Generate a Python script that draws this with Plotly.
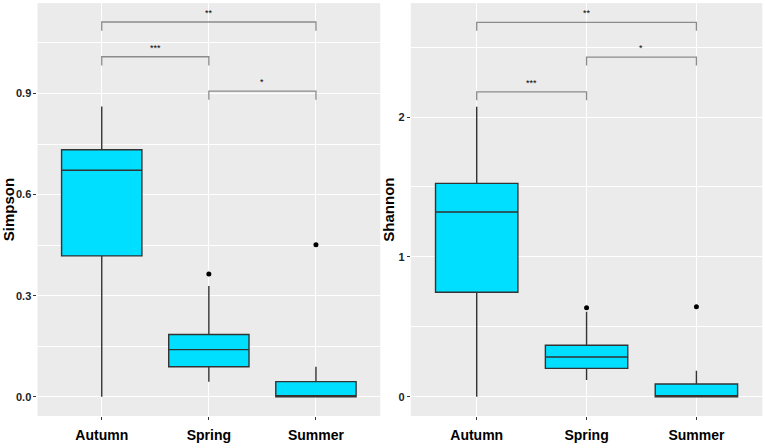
"""Alpha diversity (Simpson / Shannon) by season, boxplots with significance brackets"""

import plotly.graph_objects as go
from plotly.subplots import make_subplots

# %% Data
seasons = ["Autumn", "Spring", "Summer"]

# Simpson index
simpson_q1 = [0.418, 0.089, 0.0]
simpson_median = [0.672, 0.140, 0.0]
simpson_q3 = [0.733, 0.185, 0.045]
simpson_low = [0.0, 0.045, 0.0]
simpson_high = [0.861, 0.329, 0.089]
simpson_out_x = ["Spring", "Summer"]
simpson_out_y = [0.364, 0.451]

# Shannon index
shannon_q1 = [0.747, 0.203, 0.0]
shannon_median = [1.321, 0.284, 0.0]
shannon_q3 = [1.526, 0.368, 0.091]
shannon_low = [0.0, 0.119, 0.0]
shannon_high = [2.074, 0.608, 0.186]
shannon_out_x = ["Spring", "Summer"]
shannon_out_y = [0.637, 0.644]

# significance brackets: (group a, group b, label, bracket height)
simpson_sig = [("Autumn", "Summer", "**", 1.112),
               ("Autumn", "Spring", "***", 1.009),
               ("Spring", "Summer", "*", 0.907)]
shannon_sig = [("Autumn", "Summer", "**", 2.677),
               ("Spring", "Summer", "*", 2.429),
               ("Autumn", "Spring", "***", 2.181)]

# %% Style
FILL = "#00DFFF"
EDGE = "#333333"
BRACKET = "#8C8C8C"
PANEL = "#EBEBEB"
FONT = "Liberation Sans"

fig = make_subplots(rows=1, cols=2)


def add_panel(col, q1, med, q3, low, high, out_x, out_y, sig, tip):
    fig.add_trace(go.Box(x=seasons, q1=q1, median=med, q3=q3,
                         lowerfence=low, upperfence=high,
                         fillcolor=FILL, line=dict(color=EDGE, width=1.4),
                         width=0.75, whiskerwidth=0, boxpoints=False,
                         showlegend=False, hoverinfo="skip"),
                  row=1, col=col)
    fig.add_trace(go.Scatter(x=out_x, y=out_y, mode="markers",
                             marker=dict(color="black", size=5),
                             showlegend=False, hoverinfo="skip"),
                  row=1, col=col)
    xref = "x" if col == 1 else "x2"
    yref = "y" if col == 1 else "y2"
    for a, b, label, h in sig:
        fig.add_trace(go.Scatter(x=[a, a, b, b], y=[h - tip, h, h, h - tip],
                                 mode="lines",
                                 line=dict(color=BRACKET, width=1.3),
                                 showlegend=False, hoverinfo="skip"),
                      row=1, col=col)
        mid = (seasons.index(a) + seasons.index(b)) / 2
        fig.add_annotation(x=mid, y=h, xref=xref, yref=yref, text=label,
                           showarrow=False, yanchor="bottom", yshift=2,
                           font=dict(family=FONT, size=9, color="black"))


add_panel(1, simpson_q1, simpson_median, simpson_q3, simpson_low,
          simpson_high, simpson_out_x, simpson_out_y, simpson_sig, 0.026)
add_panel(2, shannon_q1, shannon_median, shannon_q3, shannon_low,
          shannon_high, shannon_out_x, shannon_out_y, shannon_sig, 0.06)

xaxis_style = dict(type="category", categoryorder="array",
                   categoryarray=seasons, range=[-0.6, 2.6],
                   automargin=False,
                   showgrid=True, gridcolor="white", gridwidth=1,
                   zeroline=False, showline=False,
                   ticks="outside", ticklen=3, tickcolor="#333333",
                   ticklabelstandoff=3,
                   tickfont=dict(family=FONT, size=14, color="black",
                                 weight="bold"))
fig.update_xaxes(**xaxis_style)
fig.update_xaxes(domain=[0.049, 0.497], row=1, col=1)
fig.update_xaxes(domain=[0.537, 0.9965], row=1, col=2)

yaxis_style = dict(showgrid=True, gridcolor="white", gridwidth=1.1,
                   automargin=False,
                   zeroline=False, showline=False,
                   ticks="outside", ticklen=3, tickcolor="#333333",
                   tickfont=dict(family=FONT, size=11, color="#222222",
                                 weight="bold"),
                   domain=[0.0714, 0.993])
fig.update_yaxes(**yaxis_style)
fig.update_yaxes(range=[-0.057, 1.168], tick0=0, dtick=0.3,
                 tickformat=".1f",
                 minor=dict(showgrid=True, gridcolor="white", gridwidth=0.5,
                            tick0=0, dtick=0.15),
                 title=dict(text="Simpson", standoff=3,
                            font=dict(family=FONT, size=15, color="black",
                                      weight="bold")),
                 row=1, col=1)
fig.update_yaxes(range=[-0.138, 2.815], tick0=0, dtick=1,
                 minor=dict(showgrid=True, gridcolor="white", gridwidth=0.5,
                            tick0=0, dtick=0.5),
                 title=dict(text="Shannon", standoff=0,
                            font=dict(family=FONT, size=15, color="black",
                                      weight="bold")),
                 row=1, col=2)

fig.update_layout(width=765, height=448,
                  margin=dict(l=0, r=0, t=0, b=0),
                  paper_bgcolor="white", plot_bgcolor=PANEL,
                  font=dict(family=FONT),
                  showlegend=False)

# page body has a default 8px margin, drop it so the figure sits at 0,0
fig.write_html("out.html", config={"displayModeBar": False},
               post_script="document.body.style.margin = '0';")
